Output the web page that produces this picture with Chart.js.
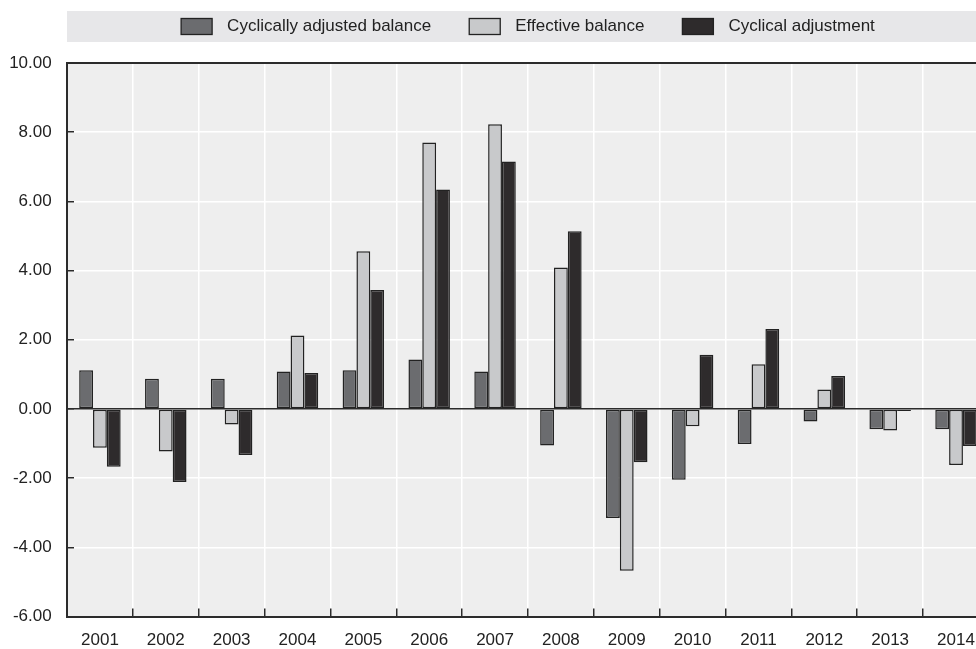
<!DOCTYPE html>
<html>
<head>
<meta charset="utf-8">
<script src="https://cdn.jsdelivr.net/npm/chart.js@4"></script>
<style>
  html, body { margin: 0; padding: 0; background: #fff; overflow: hidden; }
  #wrap { position: absolute; left: 0; top: 0; width: 997px; height: 649px; }
</style>
</head>
<body>
<div id="wrap"><canvas id="c"></canvas></div>
<script>
// years on the x axis
const years = ['2001', '2002', '2003', '2004', '2005', '2006', '2007',
               '2008', '2009', '2010', '2011', '2012', '2013', '2014'];

// values
const cyclicallyAdjusted = [1.12, 0.87, 0.87, 1.08, 1.12, 1.43, 1.08, -1.06, -3.15, -2.05, -1.01, -0.36, -0.59, -0.59];
const effectiveBalance   = [-1.12, -1.23, -0.45, 2.12, 4.56, 7.70, 8.23, 4.09, -4.68, -0.50, 1.29, 0.56, -0.62, -1.62];
const cyclicalAdjustment = [-1.67, -2.11, -1.33, 1.04, 3.44, 6.34, 7.15, 5.14, -1.54, 1.57, 2.31, 0.95, -0.06, -1.07];

const yMin = -6, yMax = 10, yStep = 2;

const FONT = "'Liberation Sans', Arial, sans-serif";
const ink = '#2b2b2b';

// grey band + hand drawn legend, plot background, top frame line
const chartDecor = {
    id: 'chartDecor',
    beforeDraw: (chart) => {
        const { ctx, chartArea: { left, top, right, bottom } } = chart;
        ctx.save();
        ctx.fillStyle = '#e7e7e9';
        ctx.fillRect(left, 11, chart.width - left, 31);
        ctx.fillStyle = '#eeeeee';
        ctx.fillRect(left, top, right - left, bottom - top);

        // legend, centred over the plot
        ctx.font = '17px ' + FONT;
        const boxW = 31, boxH = 16, gap = 15, itemGap = 38;
        const sets = chart.data.datasets;
        const widths = sets.map(d => ctx.measureText(d.label).width);
        const total = widths.reduce((a, w) => a + boxW + gap + w, 0) + itemGap * (sets.length - 1);
        let x = (left + right) / 2 - total / 2;
        const cy = 26.5;
        sets.forEach((d, i) => {
            ctx.fillStyle = d.backgroundColor;
            ctx.fillRect(x, cy - boxH / 2, boxW, boxH);
            ctx.strokeStyle = d.borderColor;
            ctx.lineWidth = 1.3;
            ctx.strokeRect(x, cy - boxH / 2, boxW, boxH);
            ctx.fillStyle = '#222';
            ctx.textBaseline = 'middle';
            ctx.fillText(d.label, x + boxW + gap, cy);
            x += boxW + gap + widths[i] + itemGap;
        });
        ctx.restore();
    },
    afterDraw: (chart) => {
        const { ctx, chartArea: { left, top, right } } = chart;
        ctx.save();
        ctx.strokeStyle = ink;
        ctx.lineWidth = 2;
        ctx.beginPath();
        ctx.moveTo(left - 1, top);
        ctx.lineTo(right, top);
        ctx.stroke();
        ctx.restore();
    }
};

new Chart(document.getElementById('c'), {
    type: 'bar',
    data: {
        labels: years,
        datasets: [
            { label: 'Cyclically adjusted balance', data: cyclicallyAdjusted, backgroundColor: '#6b6c6f' },
            { label: 'Effective balance', data: effectiveBalance, backgroundColor: '#c8c9cb' },
            { label: 'Cyclical adjustment', data: cyclicalAdjustment, backgroundColor: '#2e2b2c' }
        ].map(d => Object.assign(d, {
            borderColor: '#222222',
            borderWidth: 1.5,
            borderSkipped: false,
            categoryPercentage: 0.63,
            barPercentage: 1.0
        }))
    },
    options: {
        responsive: true,
        maintainAspectRatio: false,
        animation: false,
        layout: { padding: { top: 63, right: 2, bottom: 0, left: 0 } },
        scales: {
            x: {
                grid: {
                    color: '#ffffff',
                    lineWidth: 1.5,
                    tickColor: ink,
                    tickLength: -8,
                    tickWidth: 1.5
                },
                border: { color: ink, width: 2 },
                ticks: {
                    padding: 22,
                    color: '#222',
                    font: { family: FONT, size: 17 },
                    maxRotation: 0,
                    autoSkip: false
                },
                afterFit: (s) => { s.height = 28.9; }
            },
            y: {
                min: yMin,
                max: yMax,
                grid: {
                    color: (c) => c.tick && c.tick.value === 0 ? ink : '#ffffff',
                    lineWidth: 1.5,
                    tickColor: ink,
                    tickLength: -7,
                    tickWidth: 1.5
                },
                border: { color: ink, width: 2 },
                ticks: {
                    stepSize: yStep,
                    padding: 22.3,
                    color: '#222',
                    font: { family: FONT, size: 17 },
                    callback: (v) => Number(v).toFixed(2)
                },
                afterFit: (s) => { s.width = 67; }
            }
        },
        plugins: {
            legend: { display: false },
            tooltip: { enabled: false }
        }
    },
    plugins: [chartDecor]
});
</script>
</body>
</html>
